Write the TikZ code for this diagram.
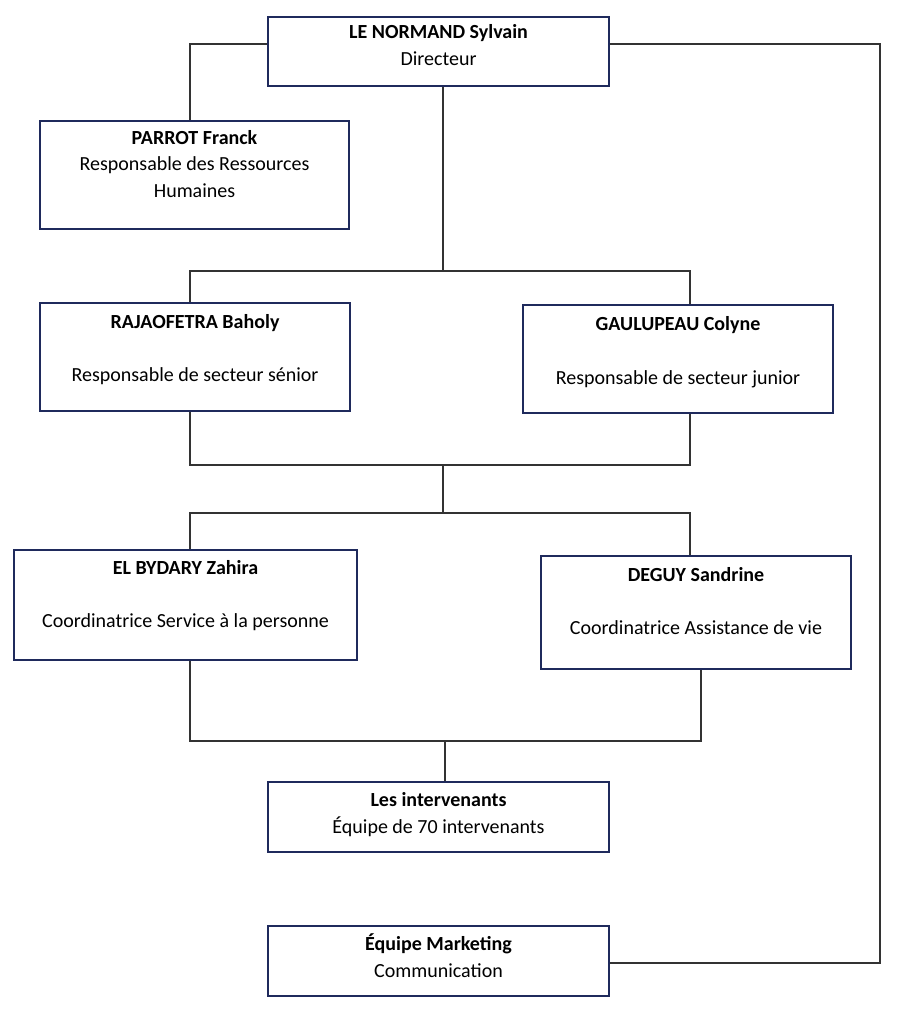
\documentclass[tikz,border=0pt]{standalone}
\usepackage{fontspec}
\setmainfont{Carlito}
\definecolor{navy}{HTML}{1F2A5C}
\definecolor{wire}{HTML}{333333}
\tikzset{
  box/.style={draw=navy, line width=2.4pt, fill=white, inner sep=0pt},
  wire/.style={draw=wire, line width=1.3pt},
  txt/.style={anchor=base, inner sep=0pt, font=\fontsize{20}{24}\selectfont},
  btxt/.style={txt, font=\fontsize{20}{24}\selectfont\bfseries},
}
\begin{document}
\begin{tikzpicture}[x=1pt,y=-1pt]
\useasboundingbox (0,0) rectangle (896,1024);
\coordinate (dl) at (190,44);
\coordinate (dr) at (880,44);
\coordinate (mr) at (880,963);
\coordinate (h1) at (443,271);
\coordinate (h1l) at (190,271);
\coordinate (h1r) at (690,271);
\coordinate (h2) at (443,465);
\coordinate (h2l) at (190,465);
\coordinate (h2r) at (690,465);
\coordinate (h3) at (443,513);
\coordinate (h3l) at (190,513);
\coordinate (h3r) at (690,513);
\coordinate (h4) at (445,741);
\coordinate (h4l) at (190,741);
\coordinate (h4r) at (701,741);

% boxes
\node[box, minimum width=341pt, minimum height=69pt] (dir) at (438.5,51.5) {};
\node[box, minimum width=309pt, minimum height=108pt] (hr) at (194.5,175) {};
\node[box, minimum width=310pt, minimum height=108pt] (raja) at (195,357) {};
\node[box, minimum width=310pt, minimum height=108pt] (gaul) at (678,359) {};
\node[box, minimum width=343pt, minimum height=110pt] (elb) at (185.5,605) {};
\node[box, minimum width=310pt, minimum height=113pt] (deg) at (696,612.5) {};
\node[box, minimum width=341pt, minimum height=70pt] (int) at (438.5,817) {};
\node[box, minimum width=341pt, minimum height=70pt] (mkt) at (438.5,961) {};

% connectors
\draw[wire] (dir.west |- dl) -- (dl) -- (dl |- hr.north);
\draw[wire] (dir.east |- dr) -- (dr) -- (mr) -- (mr -| mkt.east);
\draw[wire] (h1 |- dir.south) -- (h1);
\draw[wire] (h1l |- raja.north) -- (h1l) -- (h1r) -- (h1r |- gaul.north);
\draw[wire] (h2l |- raja.south) -- (h2l) -- (h2r) -- (h2r |- gaul.south);
\draw[wire] (h2) -- (h3);
\draw[wire] (h3l |- elb.north) -- (h3l) -- (h3r) -- (h3r |- deg.north);
\draw[wire] (h4l |- elb.south) -- (h4l) -- (h4r) -- (h4r |- deg.south);
\draw[wire] (h4) -- (h4 |- int.north);

% texts
\node[btxt] (dirN) at (438.5,39) {LE NORMAND Sylvain};
\node[txt] (dirR) at (438.5,66) {Directeur};
\node[btxt] (hrN) at (194.5,145) {PARROT Franck};
\node[txt] (hrR1) at (194.5,171) {Responsable des Ressources};
\node[txt] (hrR2) at (194.5,198) {Humaines};
\node[btxt] (rajaN) at (195,328) {RAJAOFETRA Baholy};
\node[txt] (rajaR) at (195,381) {Responsable de secteur sénior};
\node[btxt] (gaulN) at (678,330) {GAULUPEAU Colyne};
\node[txt] (gaulR) at (678,384) {Responsable de secteur junior};
\node[btxt] (elbN) at (185.5,574) {EL BYDARY Zahira};
\node[txt] (elbR) at (185.5,627) {Coordinatrice Service à la personne};
\node[btxt] (degN) at (696,581) {DEGUY Sandrine};
\node[txt] (degR) at (696,634) {Coordinatrice Assistance de vie};
\node[btxt] (intN) at (438.5,806) {Les intervenants};
\node[txt] (intR) at (438.5,833) {Équipe de 70 intervenants};
\node[btxt] (mktN) at (438.5,950) {Équipe Marketing};
\node[txt] (mktR) at (438.5,977) {Communication};
\end{tikzpicture}
\end{document}
